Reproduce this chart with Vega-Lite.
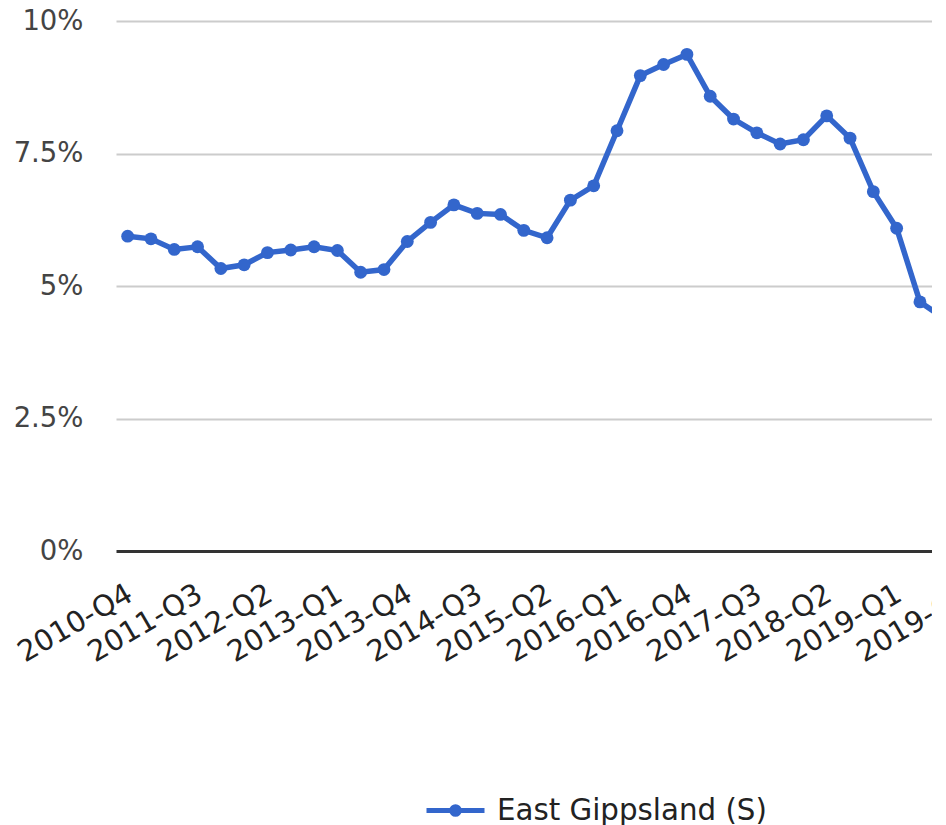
{
  "$schema": "https://vega.github.io/schema/vega-lite/v6.json",
  "autosize": {"type": "none"},
  "padding": {"left": 116, "top": 21, "right": 0, "bottom": 274},
  "width": 816,
  "height": 530,
  "background": "white",
  "config": {"view": {"stroke": null}, "font": "DejaVu Sans"},
  "data": {"values": [
    {"quarter": "2010-Q4", "rate": 0.0594, "series": "East Gippsland (S)"},
    {"quarter": "2011-Q1", "rate": 0.0589, "series": "East Gippsland (S)"},
    {"quarter": "2011-Q2", "rate": 0.0569, "series": "East Gippsland (S)"},
    {"quarter": "2011-Q3", "rate": 0.0574, "series": "East Gippsland (S)"},
    {"quarter": "2011-Q4", "rate": 0.0533, "series": "East Gippsland (S)"},
    {"quarter": "2012-Q1", "rate": 0.0540, "series": "East Gippsland (S)"},
    {"quarter": "2012-Q2", "rate": 0.0563, "series": "East Gippsland (S)"},
    {"quarter": "2012-Q3", "rate": 0.0568, "series": "East Gippsland (S)"},
    {"quarter": "2012-Q4", "rate": 0.0574, "series": "East Gippsland (S)"},
    {"quarter": "2013-Q1", "rate": 0.0567, "series": "East Gippsland (S)"},
    {"quarter": "2013-Q2", "rate": 0.0526, "series": "East Gippsland (S)"},
    {"quarter": "2013-Q3", "rate": 0.0531, "series": "East Gippsland (S)"},
    {"quarter": "2013-Q4", "rate": 0.0584, "series": "East Gippsland (S)"},
    {"quarter": "2014-Q1", "rate": 0.0620, "series": "East Gippsland (S)"},
    {"quarter": "2014-Q2", "rate": 0.0653, "series": "East Gippsland (S)"},
    {"quarter": "2014-Q3", "rate": 0.0637, "series": "East Gippsland (S)"},
    {"quarter": "2014-Q4", "rate": 0.0635, "series": "East Gippsland (S)"},
    {"quarter": "2015-Q1", "rate": 0.0605, "series": "East Gippsland (S)"},
    {"quarter": "2015-Q2", "rate": 0.0591, "series": "East Gippsland (S)"},
    {"quarter": "2015-Q3", "rate": 0.0662, "series": "East Gippsland (S)"},
    {"quarter": "2015-Q4", "rate": 0.0689, "series": "East Gippsland (S)"},
    {"quarter": "2016-Q1", "rate": 0.0793, "series": "East Gippsland (S)"},
    {"quarter": "2016-Q2", "rate": 0.0897, "series": "East Gippsland (S)"},
    {"quarter": "2016-Q3", "rate": 0.0918, "series": "East Gippsland (S)"},
    {"quarter": "2016-Q4", "rate": 0.0937, "series": "East Gippsland (S)"},
    {"quarter": "2017-Q1", "rate": 0.0858, "series": "East Gippsland (S)"},
    {"quarter": "2017-Q2", "rate": 0.0815, "series": "East Gippsland (S)"},
    {"quarter": "2017-Q3", "rate": 0.0789, "series": "East Gippsland (S)"},
    {"quarter": "2017-Q4", "rate": 0.0768, "series": "East Gippsland (S)"},
    {"quarter": "2018-Q1", "rate": 0.0776, "series": "East Gippsland (S)"},
    {"quarter": "2018-Q2", "rate": 0.0821, "series": "East Gippsland (S)"},
    {"quarter": "2018-Q3", "rate": 0.0779, "series": "East Gippsland (S)"},
    {"quarter": "2018-Q4", "rate": 0.0678, "series": "East Gippsland (S)"},
    {"quarter": "2019-Q1", "rate": 0.0609, "series": "East Gippsland (S)"},
    {"quarter": "2019-Q2", "rate": 0.0470, "series": "East Gippsland (S)"},
    {"quarter": "2019-Q3", "rate": 0.0440, "series": "East Gippsland (S)"}
  ]},
  "mark": {
    "type": "line",
    "clip": true,
    "strokeWidth": 5.5,
    "point": {"filled": true, "size": 165}
  },
  "encoding": {
    "x": {
      "field": "quarter",
      "type": "ordinal",
      "scale": {
        "type": "point",
        "padding": 0.5,
        "domain": ["2010-Q4","2011-Q1","2011-Q2","2011-Q3","2011-Q4","2012-Q1","2012-Q2","2012-Q3","2012-Q4","2013-Q1","2013-Q2","2013-Q3","2013-Q4","2014-Q1","2014-Q2","2014-Q3","2014-Q4","2015-Q1","2015-Q2","2015-Q3","2015-Q4","2016-Q1","2016-Q2","2016-Q3","2016-Q4","2017-Q1","2017-Q2","2017-Q3","2017-Q4","2018-Q1","2018-Q2","2018-Q3","2018-Q4","2019-Q1","2019-Q2","2019-Q3","2019-Q4"],
        "range": [0, 862.2]
      },
      "axis": {
        "title": null,
        "values": ["2010-Q4","2011-Q3","2012-Q2","2013-Q1","2013-Q4","2014-Q3","2015-Q2","2016-Q1","2016-Q4","2017-Q3","2018-Q2","2019-Q1","2019-Q4"],
        "labelAngle": -30,
        "labelAlign": "right",
        "labelFontSize": 29,
        "labelColor": "#222222",
        "labelPadding": 28,
        "labelOffset": -5,
        "ticks": false,
        "tickSize": 0,
        "domain": false,
        "grid": false,
        "labelOverlap": false,
        "labelBound": false,
        "labelFlush": false
      }
    },
    "y": {
      "field": "rate",
      "type": "quantitative",
      "scale": {"domain": [0, 0.1], "nice": false, "zero": true},
      "axis": {
        "title": null,
        "values": [0, 0.025, 0.05, 0.075, 0.1],
        "format": ".1~%",
        "labelFontSize": 27.5,
        "labelColor": "#444444",
        "labelPadding": 33,
        "ticks": false,
        "tickSize": 0,
        "domain": false,
        "grid": true,
        "gridColor": {"condition": {"test": "datum.value === 0", "value": "#333333"}, "value": "#cccccc"},
        "gridWidth": {"condition": {"test": "datum.value === 0", "value": 3}, "value": 2},
        "labelOverlap": false,
        "labelFlush": false
      }
    },
    "color": {
      "field": "series",
      "type": "nominal",
      "scale": {"range": ["#3366CC"]},
      "legend": {
        "title": null,
        "orient": "none",
        "legendX": 308,
        "legendY": 758,
        "padding": 0,
        "symbolType": "M-1,0H1M0.13,0A0.13,0.13,0,1,1,-0.13,0A0.13,0.13,0,1,1,0.13,0Z",
        "symbolSize": 3364,
        "symbolStrokeWidth": 5,
        "labelFontSize": 29.3,
        "labelColor": "#222222",
        "labelOffset": 10,
        "labelLimit": 0,
        "encode": {
          "symbols": {"update": {"fill": {"value": "#3366CC"}, "stroke": {"value": "#3366CC"}, "strokeWidth": {"value": 5}, "shape": {"value": "M-1,0H1M0.13,0A0.13,0.13,0,1,1,-0.13,0A0.13,0.13,0,1,1,0.13,0Z"}}}
        }
      }
    }
  }
}
